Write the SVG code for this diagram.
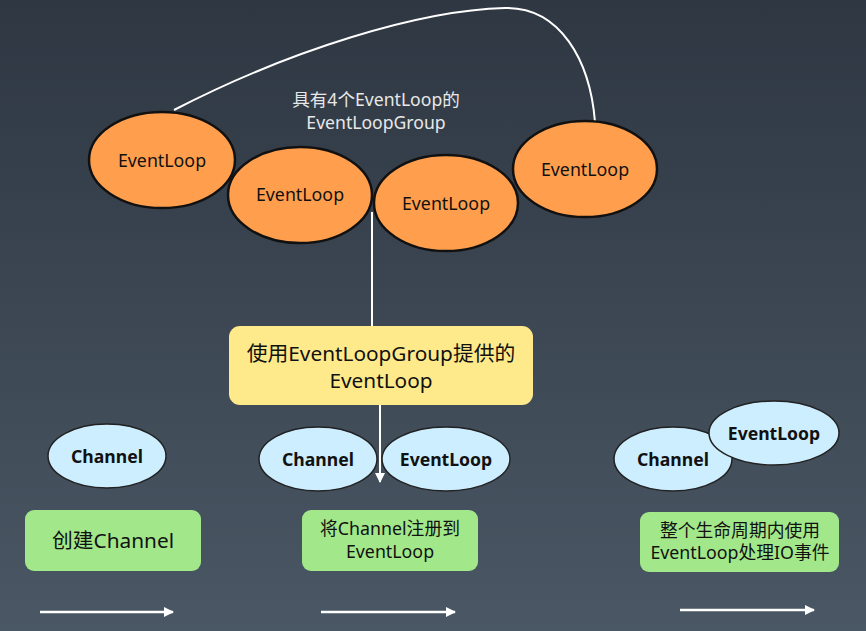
<svg xmlns="http://www.w3.org/2000/svg" width="866" height="631" viewBox="0 0 866 631">
<defs>
<linearGradient id="bg" x1="0" y1="0" x2="0" y2="1">
<stop offset="0" stop-color="#2e3742"/>
<stop offset="1" stop-color="#4a5764"/>
</linearGradient>
<marker id="ah" viewBox="0 0 10 10" refX="9" refY="5" markerWidth="4" markerHeight="4" orient="auto" markerUnits="strokeWidth">
<path d="M0,0 L10,5 L0,10 z" fill="#ffffff"/>
</marker>
<marker id="ahs" viewBox="0 0 10 10" refX="9" refY="5" markerWidth="5" markerHeight="5" orient="auto" markerUnits="strokeWidth">
<path d="M0,0 L10,5 L0,10 z" fill="#ffffff"/>
</marker>
</defs>
<style>
text{font-family:"Noto Sans","Noto Sans CJK SC",sans-serif;text-anchor:middle;dominant-baseline:central}
.orange{fill:#ff9f4d;stroke:#111;stroke-width:2.5}
.blue{fill:#cdeeff;stroke:#222;stroke-width:1.5}
.green{fill:#a2e88a}
.yellow{fill:#feea8a}
.t16{font-size:17.8px;fill:#111}
.b16{font-size:17.6px;font-weight:bold;fill:#111}
.t20{font-size:20.8px;fill:#111}
.lbl{font-size:17.6px;fill:#e8e8e8}
.line{stroke:#fff;stroke-width:2;fill:none}
.arr{stroke:#fff;stroke-width:2.5;fill:none}
</style>
<rect width="866" height="631" fill="url(#bg)"/>
<g id="connectors">
<path class="line" d="M174,110 C290,50 420,10 505,8 C560,7 590,60 595,122"/>
<path class="line" d="M372,212 L372,326"/>
<path class="line" stroke-width="1.5" d="M380,397 L380,482" marker-end="url(#ahs)"/>
<path class="arr" d="M40,612 L173,612" marker-end="url(#ah)"/>
<path class="arr" d="M321,612 L455,612" marker-end="url(#ah)"/>
<path class="arr" d="M680,610 L814,610" marker-end="url(#ah)"/>
</g>
<g id="group-label">
<text class="lbl" x="376" y="99">具有4个EventLoop的</text>
<text class="lbl" x="376" y="122">EventLoopGroup</text>
</g>
<g id="el1"><ellipse class="orange" cx="162" cy="160" rx="73" ry="48"/><text class="t16" x="162" y="160">EventLoop</text></g>
<g id="el2"><ellipse class="orange" cx="300" cy="195" rx="72" ry="48"/><text class="t16" x="300" y="194">EventLoop</text></g>
<g id="el3"><ellipse class="orange" cx="446" cy="203" rx="72" ry="48"/><text class="t16" x="446" y="203">EventLoop</text></g>
<g id="el4"><ellipse class="orange" cx="585" cy="169" rx="72" ry="48"/><text class="t16" x="585" y="169">EventLoop</text></g>
<g id="provide">
<rect class="yellow" x="229" y="326" width="304" height="79" rx="11"/>
<text class="t20" x="381" y="353">使用EventLoopGroup提供的</text>
<text class="t20" x="381" y="380">EventLoop</text>
</g>
<g id="ch1"><ellipse class="blue" cx="107" cy="456" rx="59" ry="32"/><text class="b16" x="107" y="456">Channel</text></g>
<g id="ch2"><ellipse class="blue" cx="318" cy="459" rx="59" ry="32"/><text class="b16" x="318" y="459">Channel</text></g>
<g id="el5"><ellipse class="blue" cx="446" cy="459" rx="64" ry="32"/><text class="b16" x="446" y="459">EventLoop</text></g>
<g id="ch3"><ellipse class="blue" cx="673" cy="459" rx="59" ry="32"/><text class="b16" x="673" y="459">Channel</text></g>
<g id="el6"><ellipse class="blue" cx="774" cy="433" rx="65" ry="32"/><text class="b16" x="774" y="433">EventLoop</text></g>
<g id="step1"><rect class="green" x="25" y="510" width="176" height="61" rx="9"/><text class="t20" x="113" y="540">创建Channel</text></g>
<g id="step2"><rect class="green" x="302" y="510" width="176" height="61" rx="9"/><text class="t16" x="390" y="528">将Channel注册到</text><text class="t16" x="390" y="551">EventLoop</text></g>
<g id="step3"><rect class="green" x="640" y="512" width="199" height="60" rx="9"/><text class="t16" x="740" y="530">整个生命周期内使用</text><text class="t16" x="740" y="552">EventLoop处理IO事件</text></g>
</svg>
